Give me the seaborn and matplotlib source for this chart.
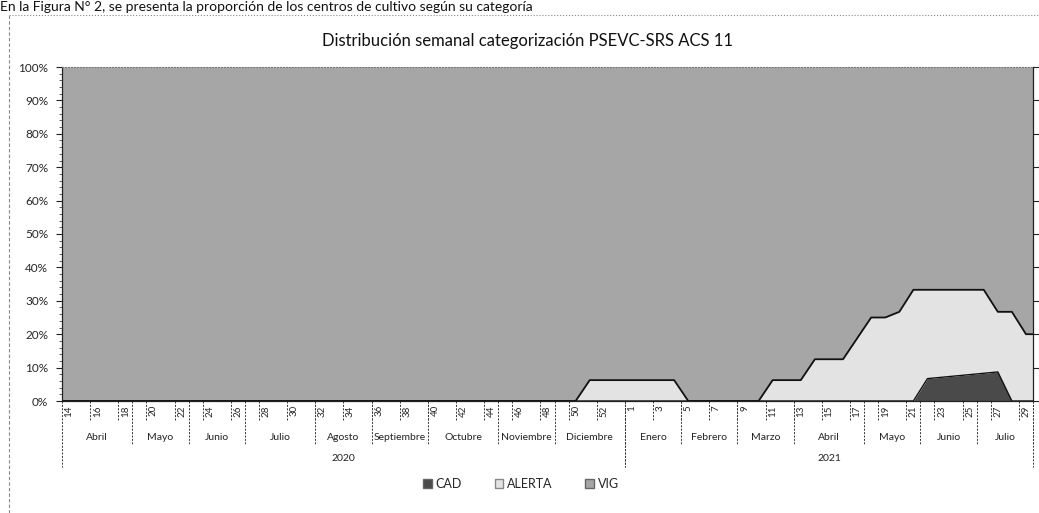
"""
Distribución semanal de la categorización PSEVC-SRS en la ACS 11
(área 100 % apilada: CAD / ALERTA / VIG), semanas 2020-2021.
"""
import matplotlib
matplotlib.use("Agg")
import matplotlib.pyplot as plt
import numpy as np
import pandas as pd
import seaborn as sns
from matplotlib.lines import Line2D
from matplotlib.patches import Patch
from matplotlib.ticker import MultipleLocator

# --- datos (% de centros por semana) ---------------------------------------
semanas_2020 = list(range(14, 54))   # SE 14 a SE 53
semanas_2021 = list(range(1, 30))    # SE 1 a SE 29

cad_2020 = [0] * 40
alerta_2020 = [0] * 37 + [6.25, 6.25, 6.25]
vig_2020 = [100] * 37 + [93.75, 93.75, 93.75]

cad_2021 = [0, 0, 0, 0, 0, 0, 0, 0, 0, 0,
            0, 0, 0, 0, 0, 0, 0, 0, 0, 0,
            0, 6.7, 7.1, 7.5, 7.9, 8.3, 8.7, 0, 0]
alerta_2021 = [6.25, 6.25, 6.25, 6.25, 0, 0, 0, 0, 0, 0,
               6.25, 6.25, 6.25, 12.5, 12.5, 12.5, 18.75, 25, 25, 26.7,
               33.3, 26.6, 26.2, 25.8, 25.4, 25.0, 18.0, 26.7, 20]
vig_2021 = [93.75, 93.75, 93.75, 93.75, 100, 100, 100, 100, 100, 100,
            93.75, 93.75, 93.75, 87.5, 87.5, 87.5, 81.25, 75, 75, 73.3,
            66.7, 66.7, 66.7, 66.7, 66.7, 66.7, 73.3, 73.3, 80]

meses_2020 = ["Abril", "Mayo", "Junio", "Julio", "Agosto", "Septiembre",
              "Octubre", "Noviembre", "Diciembre"]
n_sem_2020 = [5, 4, 4, 5, 4, 4, 5, 4, 5]
meses_2021 = ["Enero", "Febrero", "Marzo", "Abril", "Mayo", "Junio", "Julio"]
n_sem_2021 = [4, 4, 4, 5, 4, 4, 4]
anios = ["2020", "2021"]

titulo = "Distribución semanal categorización PSEVC-SRS ACS 11"
texto_doc = ("En la Figura N° 2, se presenta la proporción de los centros "
             "de cultivo según su categoría")

COL_CAD = "#4a4a4a"
COL_ALERTA = "#e3e3e3"
COL_VIG = "#a6a6a6"

df = pd.DataFrame({
    "semana": semanas_2020 + semanas_2021,
    "CAD": cad_2020 + cad_2021,
    "ALERTA": alerta_2020 + alerta_2021,
    "VIG": vig_2020 + vig_2021,
})
df["pos"] = np.arange(len(df))
n = len(df)

# el área de Excel llega hasta los bordes: se repite el primer/último valor
ext = pd.concat([df.iloc[[0]], df, df.iloc[[-1]]], ignore_index=True)
ext.loc[0, "pos"] = -0.5
ext.loc[len(ext) - 1, "pos"] = n - 0.5
ext["acum_alerta"] = ext["CAD"] + ext["ALERTA"]

sns.set_theme(style="white")
plt.rcParams["font.family"] = ["Lato", "DejaVu Sans"]

fig = plt.figure(figsize=(10.39, 5.13), dpi=100)
ax = fig.add_axes([62 / 1039, 1 - 401 / 513, 971 / 1039, 334 / 513])

ax.stackplot(ext["pos"], ext["CAD"], ext["ALERTA"], ext["VIG"],
             colors=[COL_CAD, COL_ALERTA, COL_VIG], lw=0)
sns.lineplot(x=ext["pos"], y=ext["acum_alerta"], ax=ax, color="#111111",
             lw=1.3, sort=False)
sns.lineplot(x=ext["pos"], y=ext["CAD"], ax=ax, color="#111111",
             lw=1.0, sort=False)

ax.set_xlim(-0.5, n - 0.5)
ax.set_ylim(0, 100)
ax.set_xlabel("")
ax.set_ylabel("")

# eje Y
ax.set_yticks(range(0, 101, 10))
ax.set_yticklabels([f"{v}%" for v in range(0, 101, 10)], fontsize=8.5)
ax.yaxis.set_minor_locator(MultipleLocator(2))
ax.tick_params(axis="y", which="major", direction="out", length=4, width=0.8,
               color="#222222", left=True, right=True, pad=6)
ax.tick_params(axis="y", which="minor", direction="out", length=2, width=0.6,
               color="#444444", left=True, right=False)

# eje X multinivel: semana / mes / año
etiquetas = df["semana"].astype(str).tolist()
ax.set_xticks(df["pos"][::2])
ax.set_xticklabels(etiquetas[::2], rotation=90, fontsize=7)
ax.tick_params(axis="x", length=0, pad=3)

for sp in ["left", "bottom", "right"]:
    ax.spines[sp].set_color("#222222")
    ax.spines[sp].set_linewidth(0.9)
ax.spines["top"].set_color("#777777")
ax.spines["top"].set_linestyle(":")
ax.spines["top"].set_linewidth(0.8)

trans = ax.get_xaxis_transform()
sep_kw = dict(transform=trans, clip_on=False, color="#333333", lw=0.7,
              ls=(0, (2, 1.5)))

for k in range(2, n, 2):
    ax.add_line(Line2D([k - 0.5, k - 0.5], [0, -0.057], **sep_kw))

y_mes, y_anio = -0.108, -0.171
inicio = -0.5
for meses, n_sem, anio in [(meses_2020, n_sem_2020, anios[0]),
                           (meses_2021, n_sem_2021, anios[1])]:
    ini_anio = inicio
    for mes, ns in zip(meses, n_sem):
        fin = inicio + ns
        ax.text((inicio + fin) / 2, y_mes, mes, transform=trans, ha="center",
                va="center", fontsize=7.5, color="#222222")
        ax.add_line(Line2D([fin, fin], [0, -0.132], **sep_kw))
        inicio = fin
    ax.text((ini_anio + inicio) / 2, y_anio, anio, transform=trans,
            ha="center", va="center", fontsize=7.5, color="#222222")
    ax.add_line(Line2D([ini_anio, ini_anio], [0, -0.198], **sep_kw))
    ax.add_line(Line2D([inicio, inicio], [0, -0.198], **sep_kw))

# leyenda
handles = [Patch(facecolor=COL_CAD, edgecolor="#666666", label="CAD"),
           Patch(facecolor=COL_ALERTA, edgecolor="#888888", label="ALERTA"),
           Patch(facecolor=COL_VIG, edgecolor="#666666", label="VIG")]
fig.legend(handles=handles, loc="center", bbox_to_anchor=(521 / 1039, 1 - 484 / 513),
           ncol=3, frameon=False, fontsize=9, handlelength=0.7,
           handleheight=0.7, handletextpad=0.3, columnspacing=2.6)

fig.text(527 / 1039, 1 - 41 / 513, titulo, ha="center", va="center",
         fontsize=12, color="#111111")

# texto del documento sobre el gráfico
fig.text(0.0, 1 - 1 / 513, texto_doc, ha="left", va="top", fontsize=10,
         color="#111111")

# borde del área del gráfico
fig.add_artist(Line2D([9 / 1039, 1], [1 - 15 / 513, 1 - 15 / 513],
                      transform=fig.transFigure, color="#888888", lw=0.8, ls=":"))
fig.add_artist(Line2D([9 / 1039, 9 / 1039], [0, 1 - 15 / 513],
                      transform=fig.transFigure, color="#888888", lw=0.8,
                      ls=(0, (3, 2))))

fig.savefig("out.png", dpi=100, facecolor="white")
